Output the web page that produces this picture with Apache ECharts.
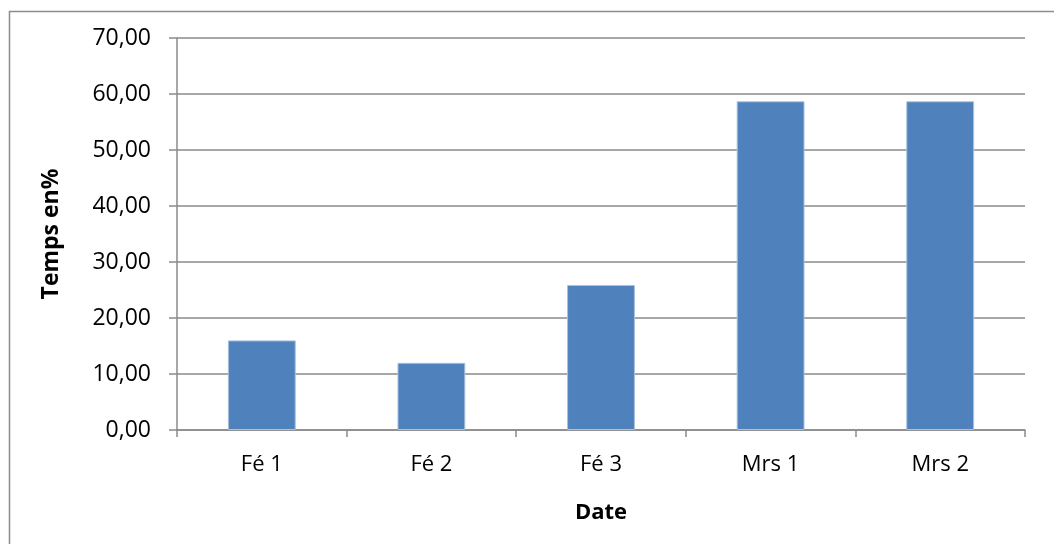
<!DOCTYPE html>
<html>
<head>
<meta charset="utf-8">
<script src="https://cdn.jsdelivr.net/npm/echarts@6/dist/echarts.min.js"></script>
<style>
  html, body { margin: 0; padding: 0; background: #fff; }
  #chart { width: 1054px; height: 544px; }
</style>
</head>
<body>
<div id="chart"></div>
<script>
// Share of time per date
const categories = ['Fé 1', 'Fé 2', 'Fé 3', 'Mrs 1', 'Mrs 2'];
const values = [16.0, 12.0, 25.9, 58.7, 58.7];
const yTicks = [0, 10, 20, 30, 40, 50, 60, 70];

const font = '"Open Sans", sans-serif';
const axisGray = '#8a8a8a';

const chart = echarts.init(document.getElementById('chart'), null, { renderer: 'canvas' });
chart.setOption({
  animation: false,
  backgroundColor: '#ffffff',
  graphic: [{
    type: 'rect',
    shape: { x: 9.5, y: 11.5, width: 1200, height: 700 },
    style: { fill: 'none', stroke: '#8c8c8c', lineWidth: 1.5 },
    silent: true
  }],
  grid: { left: 177, right: 29, top: 38, bottom: 114, containLabel: false },
  xAxis: {
    type: 'category',
    data: categories,
    name: 'Date',
    nameLocation: 'middle',
    nameGap: 72,
    nameTextStyle: { fontFamily: font, fontSize: 22, fontWeight: 'bold', color: '#000' },
    axisLine: { lineStyle: { color: axisGray, width: 1.5 } },
    axisTick: { show: true, alignWithLabel: false, length: 7, lineStyle: { color: axisGray, width: 1.5 } },
    axisLabel: { fontFamily: font, fontSize: 22, color: '#000', margin: 24 }
  },
  yAxis: {
    type: 'value',
    min: yTicks[0],
    max: yTicks[yTicks.length - 1],
    interval: yTicks[1] - yTicks[0],
    name: 'Temps en%',
    nameLocation: 'middle',
    nameGap: 114,
    nameRotate: 90,
    nameTextStyle: { fontFamily: font, fontSize: 23, fontWeight: 'bold', color: '#000' },
    axisLine: { show: true, lineStyle: { color: axisGray, width: 1.5 } },
    axisTick: { show: true, length: 8, lineStyle: { color: axisGray, width: 1.5 } },
    splitLine: { show: true, lineStyle: { color: axisGray, width: 1.5 } },
    axisLabel: {
      fontFamily: font, fontSize: 23, color: '#000', margin: 26,
      formatter: v => v.toFixed(2).replace('.', ',')
    }
  },
  series: [{
    type: 'bar',
    data: values,
    barWidth: '40%',
    itemStyle: { color: '#4F81BD', borderColor: '#a9c1e0', borderWidth: 1 }
  }]
});
</script>
</body>
</html>
